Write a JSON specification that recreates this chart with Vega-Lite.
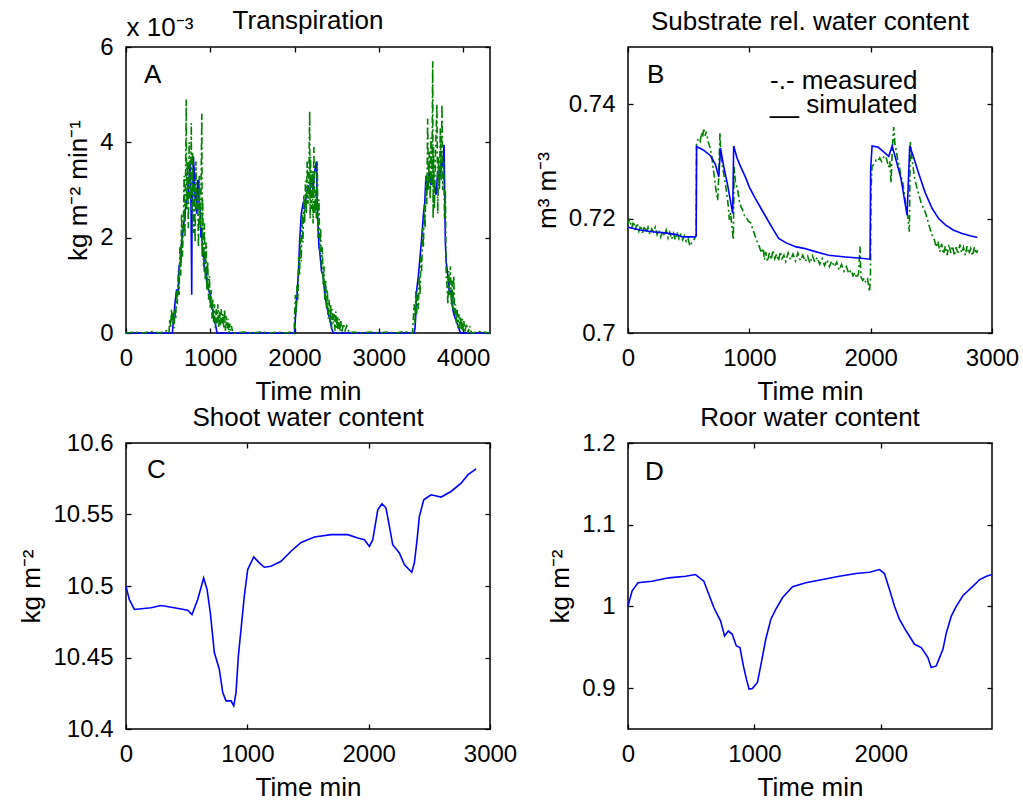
{
 "$schema": "https://vega.github.io/schema/vega-lite/v6.json",
 "padding": {"left": 18, "top": 7, "right": 5, "bottom": 0},
 "columns": 2,
 "spacing": {"row": 110, "column": 138},
 "bounds": "flush",
 "datasets": {
  "A_sim": [
   {"t":0,"v":0},{"t":550,"v":0},{"t":560,"v":0.0002},{"t":580,"v":0.0006},{"t":600,"v":0.0009},{"t":620,"v":0.0009},{"t":630,"v":0.0014},{"t":650,"v":0.0015},{"t":660,"v":0.0019},{"t":680,"v":0.0022},{"t":700,"v":0.0025},{"t":720,"v":0.0028},{"t":740,"v":0.003},{"t":750,"v":0.0033},{"t":760,"v":0.0036},{"t":770,"v":0.003},{"t":780,"v":0.0008},{"t":785,"v":0.003},{"t":790,"v":0.0028},{"t":800,"v":0.0037},{"t":810,"v":0.0034},{"t":820,"v":0.0028},{"t":830,"v":0.003},{"t":840,"v":0.0025},{"t":850,"v":0.0032},{"t":860,"v":0.0032},{"t":870,"v":0.0026},{"t":880,"v":0.0027},{"t":890,"v":0.002},{"t":900,"v":0.0022},{"t":910,"v":0.0016},{"t":920,"v":0.0018},{"t":930,"v":0.0013},{"t":950,"v":0.0013},{"t":960,"v":0.001},{"t":980,"v":0.0009},{"t":1000,"v":0.0008},{"t":1010,"v":0.0006},{"t":1030,"v":0.0005},{"t":1040,"v":0.0003},{"t":1060,"v":0.0002},{"t":1080,"v":0},
   {"t":2000,"v":0},{"t":2010,"v":0.0003},{"t":2030,"v":0.0008},{"t":2050,"v":0.0014},{"t":2060,"v":0.0019},{"t":2080,"v":0.0025},{"t":2100,"v":0.0027},{"t":2120,"v":0.0026},{"t":2140,"v":0.0029},{"t":2160,"v":0.0031},{"t":2180,"v":0.0029},{"t":2200,"v":0.0033},{"t":2220,"v":0.003},{"t":2240,"v":0.0034},{"t":2260,"v":0.0036},{"t":2270,"v":0.0026},{"t":2280,"v":0.0022},{"t":2290,"v":0.0018},{"t":2300,"v":0.0017},{"t":2320,"v":0.0013},{"t":2340,"v":0.0012},{"t":2360,"v":0.0008},{"t":2380,"v":0.0006},{"t":2400,"v":0.0004},{"t":2420,"v":0.0003},{"t":2440,"v":0.0001},{"t":2460,"v":0},
   {"t":3420,"v":0},{"t":3430,"v":0.0001},{"t":3440,"v":0.0004},{"t":3450,"v":0.0009},{"t":3470,"v":0.0012},{"t":3490,"v":0.0016},{"t":3510,"v":0.002},{"t":3530,"v":0.0025},{"t":3545,"v":0.0027},{"t":3560,"v":0.0033},{"t":3580,"v":0.003},{"t":3600,"v":0.0034},{"t":3620,"v":0.0031},{"t":3640,"v":0.0033},{"t":3660,"v":0.0031},{"t":3680,"v":0.0029},{"t":3700,"v":0.0034},{"t":3720,"v":0.0032},{"t":3740,"v":0.0036},{"t":3760,"v":0.0035},{"t":3775,"v":0.00395},{"t":3790,"v":0.0019},{"t":3800,"v":0.0015},{"t":3820,"v":0.0012},{"t":3840,"v":0.0008},{"t":3860,"v":0.0009},{"t":3870,"v":0.0006},{"t":3890,"v":0.0004},{"t":3910,"v":0.0003},{"t":3930,"v":0.0002},{"t":3950,"v":0.0001},{"t":3970,"v":0},{"t":4320,"v":0}
  ],
  "A_meas": [
   {"t":0,"v":0},{"t":100,"v":0.00002},{"t":200,"v":0},{"t":300,"v":0.00003},{"t":400,"v":0},{"t":480,"v":0.00005},{"t":510,"v":0},
   {"t":520,"v":0.0003},{"t":530,"v":0.0001},{"t":540,"v":0.0005},{"t":550,"v":0.0002},{"t":560,"v":0.00045},{"t":570,"v":0.0001},{"t":580,"v":0.0005},{"t":590,"v":0.0003},{"t":600,"v":0.0009},{"t":610,"v":0.0006},{"t":620,"v":0.0013},{"t":630,"v":0.0008},{"t":640,"v":0.0018},{"t":650,"v":0.0012},{"t":660,"v":0.0025},{"t":670,"v":0.0016},{"t":680,"v":0.0022},{"t":690,"v":0.0033},{"t":700,"v":0.002},{"t":710,"v":0.0038},{"t":715,"v":0.0049},{"t":720,"v":0.0026},{"t":730,"v":0.0036},{"t":740,"v":0.0022},{"t":750,"v":0.004},{"t":760,"v":0.0028},{"t":770,"v":0.0033},{"t":775,"v":0.0044},{"t":780,"v":0.0025},{"t":790,"v":0.0038},{"t":800,"v":0.0021},{"t":810,"v":0.0032},{"t":820,"v":0.0019},{"t":830,"v":0.0036},{"t":840,"v":0.0026},{"t":850,"v":0.003},{"t":860,"v":0.0018},{"t":870,"v":0.0033},{"t":880,"v":0.0022},{"t":890,"v":0.003},{"t":900,"v":0.0046},{"t":905,"v":0.0016},{"t":910,"v":0.0028},{"t":920,"v":0.0014},{"t":930,"v":0.0023},{"t":940,"v":0.0011},{"t":950,"v":0.0019},{"t":960,"v":0.0009},{"t":970,"v":0.0015},{"t":980,"v":0.0007},{"t":990,"v":0.0012},{"t":1000,"v":0.0005},{"t":1010,"v":0.0009},{"t":1020,"v":0.0003},{"t":1030,"v":0.0007},{"t":1040,"v":0.0002},{"t":1050,"v":0.0006},{"t":1060,"v":0.0001},{"t":1070,"v":0.0005},{"t":1080,"v":0.0002},{"t":1090,"v":0.0006},{"t":1100,"v":0.0001},{"t":1110,"v":0.00045},{"t":1120,"v":0.00015},{"t":1130,"v":0.0005},{"t":1140,"v":0.0002},{"t":1150,"v":0.0004},{"t":1160,"v":0.0001},{"t":1170,"v":0.0005},{"t":1180,"v":0.00005},{"t":1190,"v":0.00035},{"t":1200,"v":0.0001},{"t":1210,"v":0.0003},{"t":1220,"v":0},{"t":1230,"v":0.0002},{"t":1240,"v":0.00005},{"t":1250,"v":0.00015},{"t":1270,"v":0},{"t":1400,"v":0.00002},{"t":1500,"v":0},{"t":1600,"v":0.00002},{"t":1700,"v":0},{"t":1800,"v":0.00002},{"t":1900,"v":0},{"t":1980,"v":0.00003},{"t":1995,"v":0},
   {"t":2000,"v":0.0003},{"t":2010,"v":0.0008},{"t":2020,"v":0.0004},{"t":2030,"v":0.001},{"t":2040,"v":0.0007},{"t":2050,"v":0.0016},{"t":2060,"v":0.0012},{"t":2070,"v":0.002},{"t":2080,"v":0.0015},{"t":2090,"v":0.0025},{"t":2100,"v":0.0019},{"t":2110,"v":0.0029},{"t":2120,"v":0.0023},{"t":2130,"v":0.0032},{"t":2140,"v":0.0025},{"t":2150,"v":0.0036},{"t":2160,"v":0.0027},{"t":2170,"v":0.0033},{"t":2180,"v":0.00465},{"t":2185,"v":0.0024},{"t":2190,"v":0.0037},{"t":2200,"v":0.0026},{"t":2210,"v":0.0034},{"t":2220,"v":0.0023},{"t":2230,"v":0.0039},{"t":2240,"v":0.0025},{"t":2250,"v":0.003},{"t":2260,"v":0.0024},{"t":2270,"v":0.0036},{"t":2280,"v":0.002},{"t":2290,"v":0.0028},{"t":2300,"v":0.0017},{"t":2310,"v":0.0022},{"t":2320,"v":0.0013},{"t":2330,"v":0.0018},{"t":2340,"v":0.001},{"t":2350,"v":0.0014},{"t":2360,"v":0.0007},{"t":2370,"v":0.0011},{"t":2380,"v":0.0005},{"t":2390,"v":0.0009},{"t":2400,"v":0.0003},{"t":2410,"v":0.0007},{"t":2420,"v":0.0002},{"t":2430,"v":0.0006},{"t":2440,"v":0.0001},{"t":2450,"v":0.0005},{"t":2460,"v":0.0002},{"t":2470,"v":0.0004},{"t":2480,"v":0.00005},{"t":2490,"v":0.00045},{"t":2500,"v":0.0001},{"t":2510,"v":0.00035},{"t":2520,"v":0},{"t":2530,"v":0.0003},{"t":2540,"v":0.00005},{"t":2550,"v":0.00025},{"t":2560,"v":0},{"t":2580,"v":0.0002},{"t":2600,"v":0.00005},{"t":2620,"v":0.00015},{"t":2650,"v":0},{"t":2700,"v":0.00002},{"t":2800,"v":0},{"t":2900,"v":0.00002},{"t":3000,"v":0},{"t":3100,"v":0.00002},{"t":3200,"v":0},{"t":3300,"v":0.00003},{"t":3400,"v":0},
   {"t":3410,"v":0.0003},{"t":3420,"v":0.0006},{"t":3430,"v":0.0002},{"t":3440,"v":0.0009},{"t":3450,"v":0.0004},{"t":3460,"v":0.0008},{"t":3470,"v":0.0005},{"t":3480,"v":0.0012},{"t":3490,"v":0.0008},{"t":3500,"v":0.0016},{"t":3510,"v":0.0013},{"t":3520,"v":0.0022},{"t":3530,"v":0.0018},{"t":3540,"v":0.0027},{"t":3550,"v":0.0022},{"t":3560,"v":0.0033},{"t":3570,"v":0.0027},{"t":3580,"v":0.0045},{"t":3590,"v":0.003},{"t":3600,"v":0.0038},{"t":3610,"v":0.0028},{"t":3620,"v":0.0041},{"t":3630,"v":0.0031},{"t":3640,"v":0.0057},{"t":3645,"v":0.0024},{"t":3650,"v":0.0039},{"t":3660,"v":0.0026},{"t":3670,"v":0.0035},{"t":3680,"v":0.0042},{"t":3690,"v":0.0048},{"t":3700,"v":0.0025},{"t":3710,"v":0.0037},{"t":3720,"v":0.003},{"t":3730,"v":0.0043},{"t":3740,"v":0.0032},{"t":3750,"v":0.0048},{"t":3760,"v":0.003},{"t":3770,"v":0.0036},{"t":3780,"v":0.0024},{"t":3790,"v":0.003},{"t":3800,"v":0.0012},{"t":3810,"v":0.001},{"t":3820,"v":0.0006},{"t":3830,"v":0.0013},{"t":3840,"v":0.0008},{"t":3850,"v":0.0014},{"t":3860,"v":0.0006},{"t":3870,"v":0.0011},{"t":3880,"v":0.0005},{"t":3890,"v":0.0012},{"t":3900,"v":0.0004},{"t":3910,"v":0.0006},{"t":3920,"v":0.0002},{"t":3930,"v":0.0005},{"t":3940,"v":0.0001},{"t":3950,"v":0.0004},{"t":3960,"v":0.0001},{"t":3970,"v":0.00035},{"t":3980,"v":0.00005},{"t":3990,"v":0.0003},{"t":4000,"v":0.00005},{"t":4010,"v":0.00025},{"t":4020,"v":0},{"t":4040,"v":0.0002},{"t":4060,"v":0},{"t":4080,"v":0.00015},{"t":4100,"v":0},{"t":4200,"v":0.00003},{"t":4320,"v":0}
  ],
  "B_sim": [
   {"t":0,"v":0.7185},{"t":100,"v":0.718},{"t":200,"v":0.7177},{"t":300,"v":0.7175},{"t":400,"v":0.7172},{"t":445,"v":0.7168},{"t":552,"v":0.7168},{"t":562,"v":0.717},{"t":565,"v":0.7326},{"t":620,"v":0.732},{"t":680,"v":0.731},{"t":720,"v":0.7295},{"t":748,"v":0.7273},{"t":762,"v":0.7323},{"t":790,"v":0.729},{"t":820,"v":0.726},{"t":845,"v":0.723},{"t":863,"v":0.7209},{"t":871,"v":0.7327},{"t":880,"v":0.732},{"t":900,"v":0.7305},{"t":930,"v":0.729},{"t":967,"v":0.7273},{"t":1000,"v":0.7255},{"t":1050,"v":0.7235},{"t":1104,"v":0.7215},{"t":1150,"v":0.7198},{"t":1200,"v":0.718},{"t":1242,"v":0.71655},{"t":1300,"v":0.7158},{"t":1379,"v":0.7151},{"t":1450,"v":0.7148},{"t":1516,"v":0.7144},{"t":1600,"v":0.7139},{"t":1654,"v":0.7136},{"t":1791,"v":0.7133},{"t":1900,"v":0.7131},{"t":1995,"v":0.7129},{"t":2000,"v":0.7288},{"t":2012,"v":0.7327},{"t":2060,"v":0.7325},{"t":2100,"v":0.7318},{"t":2149,"v":0.7309},{"t":2177,"v":0.7327},{"t":2200,"v":0.731},{"t":2250,"v":0.727},{"t":2300,"v":0.7206},{"t":2322,"v":0.7327},{"t":2350,"v":0.731},{"t":2396,"v":0.7279},{"t":2450,"v":0.7245},{"t":2506,"v":0.7218},{"t":2560,"v":0.72},{"t":2616,"v":0.7189},{"t":2680,"v":0.718},{"t":2753,"v":0.7174},{"t":2820,"v":0.717},{"t":2880,"v":0.7167}
  ],
  "B_meas": [
   {"t":0,"v":0.719},{"t":15,"v":0.72},{"t":30,"v":0.7183},{"t":45,"v":0.7195},{"t":60,"v":0.718},{"t":75,"v":0.7192},{"t":90,"v":0.7178},{"t":105,"v":0.7188},{"t":120,"v":0.7175},{"t":135,"v":0.7187},{"t":150,"v":0.7176},{"t":165,"v":0.7185},{"t":180,"v":0.7172},{"t":195,"v":0.7182},{"t":210,"v":0.7177},{"t":225,"v":0.7185},{"t":240,"v":0.7172},{"t":255,"v":0.718},{"t":270,"v":0.7168},{"t":285,"v":0.7178},{"t":300,"v":0.717},{"t":315,"v":0.718},{"t":330,"v":0.7166},{"t":345,"v":0.7176},{"t":360,"v":0.7164},{"t":375,"v":0.7174},{"t":390,"v":0.7163},{"t":405,"v":0.7176},{"t":420,"v":0.7165},{"t":435,"v":0.7172},{"t":450,"v":0.7163},{"t":465,"v":0.717},{"t":480,"v":0.716},{"t":495,"v":0.7165},{"t":510,"v":0.7152},{"t":525,"v":0.7158},{"t":540,"v":0.7162},{"t":555,"v":0.7168},{"t":562,"v":0.717},{"t":565,"v":0.733},{"t":580,"v":0.734},{"t":595,"v":0.7335},{"t":605,"v":0.735},{"t":615,"v":0.7342},{"t":624,"v":0.7358},{"t":635,"v":0.7345},{"t":645,"v":0.7352},{"t":660,"v":0.7335},{"t":675,"v":0.7325},{"t":690,"v":0.731},{"t":700,"v":0.729},{"t":712,"v":0.7273},{"t":725,"v":0.725},{"t":739,"v":0.7232},{"t":748,"v":0.7275},{"t":758,"v":0.735},{"t":765,"v":0.731},{"t":780,"v":0.729},{"t":795,"v":0.727},{"t":810,"v":0.725},{"t":825,"v":0.7225},{"t":835,"v":0.7198},{"t":845,"v":0.721},{"t":860,"v":0.718},{"t":868,"v":0.7163},{"t":875,"v":0.729},{"t":885,"v":0.7265},{"t":904,"v":0.725},{"t":918,"v":0.723},{"t":931,"v":0.7221},{"t":945,"v":0.7215},{"t":960,"v":0.7205},{"t":973,"v":0.7203},{"t":990,"v":0.7196},{"t":1014,"v":0.7192},{"t":1030,"v":0.718},{"t":1041,"v":0.7174},{"t":1060,"v":0.7162},{"t":1082,"v":0.7151},{"t":1100,"v":0.714},{"t":1115,"v":0.7148},{"t":1124,"v":0.7128},{"t":1135,"v":0.7142},{"t":1150,"v":0.7125},{"t":1165,"v":0.714},{"t":1180,"v":0.7128},{"t":1195,"v":0.7145},{"t":1210,"v":0.713},{"t":1225,"v":0.7138},{"t":1240,"v":0.7126},{"t":1255,"v":0.7142},{"t":1270,"v":0.713},{"t":1285,"v":0.7136},{"t":1300,"v":0.7125},{"t":1320,"v":0.714},{"t":1340,"v":0.7128},{"t":1360,"v":0.7138},{"t":1380,"v":0.7126},{"t":1400,"v":0.714},{"t":1420,"v":0.7127},{"t":1440,"v":0.7136},{"t":1460,"v":0.7125},{"t":1481,"v":0.7134},{"t":1500,"v":0.7122},{"t":1520,"v":0.7135},{"t":1540,"v":0.7124},{"t":1560,"v":0.7132},{"t":1580,"v":0.712},{"t":1600,"v":0.713},{"t":1620,"v":0.7118},{"t":1640,"v":0.7128},{"t":1660,"v":0.7116},{"t":1680,"v":0.7126},{"t":1701,"v":0.7116},{"t":1720,"v":0.7124},{"t":1740,"v":0.711},{"t":1760,"v":0.712},{"t":1780,"v":0.7108},{"t":1800,"v":0.7116},{"t":1820,"v":0.7104},{"t":1838,"v":0.711},{"t":1855,"v":0.71},{"t":1870,"v":0.7106},{"t":1885,"v":0.7096},{"t":1900,"v":0.7104},{"t":1912,"v":0.7151},{"t":1920,"v":0.7098},{"t":1935,"v":0.7092},{"t":1948,"v":0.7096},{"t":1960,"v":0.7088},{"t":1975,"v":0.7094},{"t":1990,"v":0.7072},{"t":1998,"v":0.7092},{"t":2003,"v":0.725},{"t":2011,"v":0.7291},{"t":2030,"v":0.7296},{"t":2045,"v":0.7302},{"t":2058,"v":0.73},{"t":2075,"v":0.7306},{"t":2090,"v":0.73},{"t":2113,"v":0.731},{"t":2130,"v":0.7305},{"t":2148,"v":0.729},{"t":2158,"v":0.73},{"t":2168,"v":0.7262},{"t":2178,"v":0.732},{"t":2190,"v":0.736},{"t":2200,"v":0.733},{"t":2212,"v":0.7318},{"t":2223,"v":0.7302},{"t":2237,"v":0.729},{"t":2250,"v":0.7273},{"t":2265,"v":0.7262},{"t":2280,"v":0.724},{"t":2292,"v":0.7221},{"t":2305,"v":0.7205},{"t":2319,"v":0.7177},{"t":2327,"v":0.7334},{"t":2340,"v":0.7305},{"t":2350,"v":0.729},{"t":2360,"v":0.7273},{"t":2380,"v":0.7255},{"t":2402,"v":0.7238},{"t":2420,"v":0.7225},{"t":2443,"v":0.7215},{"t":2460,"v":0.7205},{"t":2484,"v":0.7186},{"t":2500,"v":0.7175},{"t":2512,"v":0.7168},{"t":2525,"v":0.7163},{"t":2540,"v":0.715},{"t":2555,"v":0.716},{"t":2570,"v":0.7142},{"t":2585,"v":0.7156},{"t":2600,"v":0.7138},{"t":2615,"v":0.7152},{"t":2630,"v":0.7136},{"t":2645,"v":0.7155},{"t":2660,"v":0.714},{"t":2675,"v":0.7152},{"t":2690,"v":0.7135},{"t":2705,"v":0.715},{"t":2720,"v":0.7138},{"t":2735,"v":0.7155},{"t":2750,"v":0.714},{"t":2765,"v":0.715},{"t":2780,"v":0.7136},{"t":2795,"v":0.7152},{"t":2810,"v":0.7138},{"t":2825,"v":0.7148},{"t":2840,"v":0.7135},{"t":2855,"v":0.715},{"t":2870,"v":0.7138},{"t":2880,"v":0.7145}
  ],
  "C_sim": [
   {"t":0,"v":10.4999},{"t":27,"v":10.4906},{"t":69,"v":10.4836},{"t":206,"v":10.4848},{"t":289,"v":10.4864},{"t":398,"v":10.4848},{"t":508,"v":10.4831},{"t":544,"v":10.4801},{"t":591,"v":10.4906},{"t":640,"v":10.5056},{"t":668,"v":10.4976},{"t":695,"v":10.4813},{"t":728,"v":10.4535},{"t":769,"v":10.4418},{"t":797,"v":10.4256},{"t":824,"v":10.4197},{"t":866,"v":10.4197},{"t":888,"v":10.4162},{"t":907,"v":10.4256},{"t":926,"v":10.4511},{"t":948,"v":10.4697},{"t":975,"v":10.4929},{"t":1003,"v":10.5115},{"t":1053,"v":10.5203},{"t":1099,"v":10.5162},{"t":1140,"v":10.5131},{"t":1195,"v":10.5138},{"t":1278,"v":10.5173},{"t":1360,"v":10.5243},{"t":1443,"v":10.5305},{"t":1553,"v":10.5343},{"t":1690,"v":10.5359},{"t":1828,"v":10.5359},{"t":1910,"v":10.5336},{"t":1965,"v":10.5324},{"t":2006,"v":10.5277},{"t":2034,"v":10.5324},{"t":2075,"v":10.5533},{"t":2110,"v":10.5575},{"t":2143,"v":10.5545},{"t":2171,"v":10.5417},{"t":2198,"v":10.5289},{"t":2253,"v":10.5231},{"t":2294,"v":10.515},{"t":2355,"v":10.5096},{"t":2377,"v":10.5162},{"t":2399,"v":10.5324},{"t":2418,"v":10.5487},{"t":2454,"v":10.5603},{"t":2514,"v":10.5638},{"t":2597,"v":10.5622},{"t":2679,"v":10.5661},{"t":2762,"v":10.5719},{"t":2817,"v":10.5777},{"t":2885,"v":10.5819}
  ],
  "D_sim": [
   {"t":0,"v":1.0004},{"t":32,"v":1.0187},{"t":79,"v":1.0289},{"t":190,"v":1.0309},{"t":323,"v":1.035},{"t":455,"v":1.037},{"t":534,"v":1.039},{"t":600,"v":1.0309},{"t":640,"v":1.0146},{"t":680,"v":0.9984},{"t":733,"v":0.9821},{"t":764,"v":0.9638},{"t":794,"v":0.9699},{"t":825,"v":0.9659},{"t":857,"v":0.9516},{"t":886,"v":0.9496},{"t":913,"v":0.9272},{"t":937,"v":0.911},{"t":958,"v":0.8988},{"t":984,"v":0.8996},{"t":1024,"v":0.9069},{"t":1050,"v":0.9272},{"t":1090,"v":0.9598},{"t":1130,"v":0.9841},{"t":1169,"v":0.9963},{"t":1222,"v":1.0106},{"t":1302,"v":1.024},{"t":1407,"v":1.0289},{"t":1540,"v":1.0329},{"t":1672,"v":1.037},{"t":1804,"v":1.0402},{"t":1910,"v":1.0419},{"t":1990,"v":1.0451},{"t":2029,"v":1.0402},{"t":2069,"v":1.0207},{"t":2108,"v":1.0004},{"t":2148,"v":0.9841},{"t":2201,"v":0.9699},{"t":2267,"v":0.9537},{"t":2320,"v":0.9496},{"t":2373,"v":0.9374},{"t":2399,"v":0.9252},{"t":2439,"v":0.9272},{"t":2492,"v":0.9476},{"t":2519,"v":0.9679},{"t":2558,"v":0.9882},{"t":2598,"v":1.0004},{"t":2651,"v":1.0134},{"t":2730,"v":1.0248},{"t":2783,"v":1.0329},{"t":2836,"v":1.037},{"t":2880,"v":1.039}
  ]
 },
 "concat": [
  {
   "width": 364, "height": 286,
   "title": {"text": "Transpiration", "dy": 31},
   "layer": [
    {"data": {"name": "A_sim"}, "mark": {"type": "line", "color": "#0000ff", "strokeWidth": 1.6},
     "encoding": {
      "x": {"field": "t", "type": "quantitative", "scale": {"domain": [0, 4320], "nice": false, "zero": false}, "axis": {"orient": "bottom", "values": [0,1000,2000,3000,4000], "format": "d", "title": "Time min"}},
      "y": {"field": "v", "type": "quantitative", "scale": {"domain": [0, 0.006], "nice": false}, "axis": {"orient": "left", "values": [0,0.002,0.004,0.006], "labelExpr": "format(datum.value*1000,'d')", "title": "kg m⁻² min⁻¹"}}
     }},
    {"data": {"name": "A_meas"}, "mark": {"type": "line", "color": "#008000", "strokeWidth": 1.6, "strokeDash": [7,3,2,3]},
     "encoding": {
      "x": {"field": "t", "type": "quantitative", "axis": {"orient": "top", "values": [0,1000,2000,3000,4000], "labels": false, "title": null}},
      "y": {"field": "v", "type": "quantitative", "axis": {"orient": "right", "values": [0,0.002,0.004,0.006], "labels": false, "title": "x 10⁻³", "titleAngle": 0, "titleX": -364, "titleY": -12, "titleAlign": "left", "titleBaseline": "alphabetic"}}
     }},
    {"data": {"values": [{"t": 214, "v": 0.00524, "label": "A"}]}, "mark": {"type": "text", "align": "left", "baseline": "alphabetic"},
     "encoding": {"x": {"field": "t", "type": "quantitative", "axis": null}, "y": {"field": "v", "type": "quantitative", "axis": null}, "text": {"field": "label"}}}
   ],
   "resolve": {"axis": {"x": "independent", "y": "independent"}}
  },
  {
   "width": 364, "height": 286,
   "title": {"text": "Substrate rel. water content"},
   "layer": [
    {"data": {"name": "B_meas"}, "mark": {"type": "line", "color": "#008000", "strokeWidth": 1.6, "strokeDash": [7,3,2,3]},
     "encoding": {
      "x": {"field": "t", "type": "quantitative", "scale": {"domain": [0, 3000], "nice": false, "zero": false}, "axis": {"orient": "bottom", "values": [0,1000,2000,3000], "format": "d", "title": "Time min"}},
      "y": {"field": "v", "type": "quantitative", "scale": {"domain": [0.7, 0.75], "nice": false, "zero": false}, "axis": {"orient": "left", "values": [0.7,0.72,0.74], "labelExpr": "'' + datum.value", "title": "m³ m⁻³"}}
     }},
    {"data": {"name": "B_sim"}, "mark": {"type": "line", "color": "#0000ff", "strokeWidth": 1.6},
     "encoding": {
      "x": {"field": "t", "type": "quantitative", "axis": {"orient": "top", "values": [0,1000,2000,3000], "labels": false, "title": null}},
      "y": {"field": "v", "type": "quantitative", "axis": {"orient": "right", "values": [0.7,0.72,0.74], "labels": false, "title": null}}
     }},
    {"data": {"values": [{"t": 157, "v": 0.74371, "label": "B"}, {"t": 1171, "v": 0.7426, "label": "-.- measured"}, {"t": 1171, "v": 0.73841, "label": "__  simulated"}]}, "mark": {"type": "text", "align": "left", "baseline": "alphabetic"},
     "encoding": {"x": {"field": "t", "type": "quantitative", "axis": null}, "y": {"field": "v", "type": "quantitative", "axis": null}, "text": {"field": "label"}}}
   ],
   "resolve": {"axis": {"x": "independent", "y": "independent"}}
  },
  {
   "width": 364, "height": 286,
   "title": {"text": "Shoot water content", "dy": 11},
   "layer": [
    {"data": {"name": "C_sim"}, "mark": {"type": "line", "color": "#0000ff", "strokeWidth": 1.6},
     "encoding": {
      "x": {"field": "t", "type": "quantitative", "scale": {"domain": [0, 3000], "nice": false, "zero": false}, "axis": {"orient": "bottom", "values": [0,1000,2000,3000], "format": "d", "title": "Time min"}},
      "y": {"field": "v", "type": "quantitative", "scale": {"domain": [10.4, 10.6], "nice": false, "zero": false}, "axis": {"orient": "left", "values": [10.4,10.45,10.5,10.55,10.6], "labelExpr": "'' + datum.value", "title": "kg m⁻²"}}
     }},
    {"data": {"values": [{"t": 173, "v": 10.5756, "label": "C"}]}, "mark": {"type": "text", "align": "left", "baseline": "alphabetic"},
     "encoding": {
      "x": {"field": "t", "type": "quantitative", "axis": {"orient": "top", "values": [0,1000,2000,3000], "labels": false, "title": null}},
      "y": {"field": "v", "type": "quantitative", "axis": {"orient": "right", "values": [10.4,10.45,10.5,10.55,10.6], "labels": false, "title": null}},
      "text": {"field": "label"}}}
   ],
   "resolve": {"axis": {"x": "independent", "y": "independent"}}
  },
  {
   "width": 364, "height": 286,
   "title": {"text": "Roor water content", "dy": 11},
   "layer": [
    {"data": {"name": "D_sim"}, "mark": {"type": "line", "color": "#0000ff", "strokeWidth": 1.6},
     "encoding": {
      "x": {"field": "t", "type": "quantitative", "scale": {"domain": [0, 2880], "nice": false, "zero": false}, "axis": {"orient": "bottom", "values": [0,1000,2000], "format": "d", "title": "Time min"}},
      "y": {"field": "v", "type": "quantitative", "scale": {"domain": [0.85, 1.2], "nice": false, "zero": false}, "axis": {"orient": "left", "values": [0.9,1,1.1,1.2], "labelExpr": "'' + datum.value", "title": "kg m⁻²"}}
     }},
    {"data": {"values": [{"t": 135, "v": 1.1549, "label": "D"}]}, "mark": {"type": "text", "align": "left", "baseline": "alphabetic"},
     "encoding": {
      "x": {"field": "t", "type": "quantitative", "axis": {"orient": "top", "values": [0,1000,2000], "labels": false, "title": null}},
      "y": {"field": "v", "type": "quantitative", "axis": {"orient": "right", "values": [0.9,1,1.1,1.2], "labels": false, "title": null}},
      "text": {"field": "label"}}}
   ],
   "resolve": {"axis": {"x": "independent", "y": "independent"}}
  }
 ],
 "config": {
  "background": "white",
  "view": {"stroke": "black", "strokeWidth": 1.5},
  "axis": {"grid": false, "domain": false, "ticks": true, "tickColor": "black", "tickSize": -5, "tickWidth": 1.3, "labelFont": "Liberation Sans", "labelFontSize": 24, "labelColor": "black", "labelPadding": 18, "labelFlush": false, "labelOverlap": false, "titleFont": "Liberation Sans", "titleFontSize": 26, "titleFontWeight": "normal", "titleColor": "black", "titlePadding": 8},
  "title": {"font": "Liberation Sans", "fontSize": 26, "fontWeight": "normal", "color": "black", "offset": 11, "anchor": "middle"},
  "text": {"font": "Liberation Sans", "fontSize": 26, "color": "black"}
 }
}
